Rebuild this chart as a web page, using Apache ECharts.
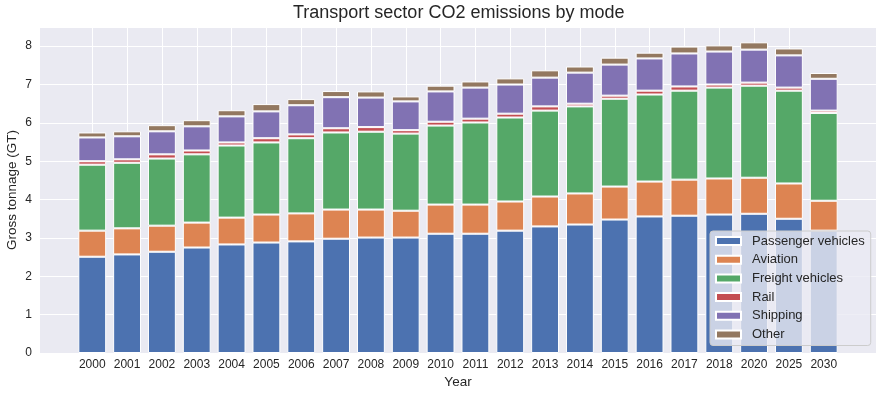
<!DOCTYPE html>
<html>
<head>
<meta charset="utf-8">
<script src="https://cdn.jsdelivr.net/npm/echarts@6/dist/echarts.min.js"></script>
<style>
  html, body { margin: 0; padding: 0; background: #ffffff; }
  #chart { width: 883px; height: 397px; }
</style>
</head>
<body>
<div id="chart"></div>
<script>
const years = ['2000', '2001', '2002', '2003', '2004', '2005', '2006', '2007', '2008', '2009', '2010',
    '2011', '2012', '2013', '2014', '2015', '2016', '2017', '2018', '2020', '2025', '2030'];
const passenger = [2.51, 2.57, 2.64, 2.75, 2.83, 2.88, 2.91, 2.98, 3.01, 3.01, 3.11, 3.11, 3.19, 3.30, 3.35, 3.48, 3.56, 3.58, 3.61, 3.63, 3.50, 3.19];
const aviation = [0.68, 0.68, 0.68, 0.65, 0.70, 0.73, 0.73, 0.76, 0.73, 0.70, 0.76, 0.76, 0.76, 0.78, 0.81, 0.86, 0.91, 0.94, 0.94, 0.94, 0.92, 0.78];
const freight = [1.72, 1.71, 1.75, 1.78, 1.88, 1.88, 1.96, 2.01, 2.03, 2.01, 2.06, 2.14, 2.19, 2.24, 2.27, 2.29, 2.27, 2.32, 2.37, 2.40, 2.42, 2.29];
const rail = [0.09, 0.09, 0.11, 0.10, 0.08, 0.11, 0.10, 0.11, 0.12, 0.09, 0.10, 0.10, 0.10, 0.11, 0.07, 0.08, 0.10, 0.11, 0.08, 0.08, 0.08, 0.06];
const shipping = [0.62, 0.60, 0.60, 0.63, 0.68, 0.70, 0.76, 0.81, 0.77, 0.75, 0.79, 0.81, 0.76, 0.75, 0.81, 0.81, 0.84, 0.86, 0.86, 0.86, 0.84, 0.83];
const other = [0.13, 0.13, 0.16, 0.16, 0.16, 0.19, 0.16, 0.16, 0.16, 0.13, 0.15, 0.16, 0.16, 0.19, 0.16, 0.18, 0.15, 0.18, 0.16, 0.19, 0.18, 0.15];

const seriesNames = ['Passenger vehicles', 'Aviation', 'Freight vehicles', 'Rail', 'Shipping', 'Other'];
const seriesData = [passenger, aviation, freight, rail, shipping, other];
const colors = ['#4C72B0', '#DD8452', '#55A868', '#C44E52', '#8172B3', '#937860'];

const FONT = '"Liberation Sans", Arial, sans-serif';
const TEXT = '#262626';

// matplotlib leaves roughly one empty slot each side of the bars
const axisData = [''].concat(years, ['']);
// helper axis at half-slot resolution, only used for the vertical grid lines
const halfSlots = [];
for (let i = 0; i <= axisData.length * 2; i++) halfSlots.push(String(i));

var chart = echarts.init(document.getElementById('chart'));
var option = {
    animation: false,
    color: colors,
    title: {
        text: 'Transport sector CO2 emissions by mode',
        left: 293,
        top: 4,
        padding: 0,
        textStyle: { fontFamily: FONT, fontSize: 18, fontWeight: 'normal', color: TEXT }
    },
    grid: {
        left: 40, right: 7, top: 27, bottom: 44,
        outerBoundsMode: 'none',
        containLabel: false,
        show: true, backgroundColor: '#EAEAF2', borderWidth: 0
    },
    legend: {
        orient: 'vertical',
        left: 710, top: 231,
        padding: [3, 6, 4, 5],
        itemWidth: 25, itemHeight: 8, itemGap: 4.7,
        icon: 'rect',
        backgroundColor: 'rgba(234,234,242,0.8)',
        borderColor: '#cccccc', borderWidth: 1, borderRadius: 3,
        textStyle: { fontFamily: FONT, fontSize: 13, color: TEXT, lineHeight: 14, padding: [0, 0, 0, 6] },
        data: seriesNames
    },
    xAxis: [{
        type: 'category',
        data: axisData,
        boundaryGap: true,
        axisLine: { show: false },
        axisTick: { show: false },
        splitLine: { show: false },
        axisLabel: { interval: 0, fontFamily: FONT, fontSize: 12, color: TEXT, margin: 6 },
        name: 'Year',
        nameLocation: 'middle',
        nameGap: 22,
        nameMoveOverlap: false,
        nameTextStyle: { fontFamily: FONT, fontSize: 13.5, color: TEXT }
    }, {
        type: 'category',
        data: halfSlots,
        boundaryGap: false,
        axisLine: { show: false },
        axisTick: { show: false },
        axisLabel: { show: false },
        splitLine: {
            show: true,
            interval: function (i) { return i % 2 === 1 && i >= 3 && i <= halfSlots.length - 5; },
            lineStyle: { color: '#ffffff', width: 1 }
        }
    }],
    yAxis: {
        type: 'value',
        min: 0, max: 8.5, interval: 1,
        axisLine: { show: false },
        axisTick: { show: false },
        axisLabel: {
            fontFamily: FONT, fontSize: 12, color: TEXT, margin: 8,
            formatter: function (v) { return Number.isInteger(v) ? String(v) : ''; }
        },
        splitLine: { lineStyle: { color: '#ffffff', width: 1 } },
        name: 'Gross tonnage (GT)',
        nameLocation: 'middle',
        nameRotate: 90,
        nameGap: 21,
        nameMoveOverlap: false,
        nameTextStyle: { fontFamily: FONT, fontSize: 13.5, color: TEXT }
    },
    series: seriesNames.map(function (name, k) {
        return {
            name: name,
            type: 'bar',
            stack: 'total',
            xAxisIndex: 0,
            barWidth: '80%',
            itemStyle: { color: colors[k], borderColor: '#ffffff', borderWidth: 1 },
            data: [null].concat(seriesData[k], [null])
        };
    })
};
option && chart.setOption(option);
</script>
</body>
</html>
